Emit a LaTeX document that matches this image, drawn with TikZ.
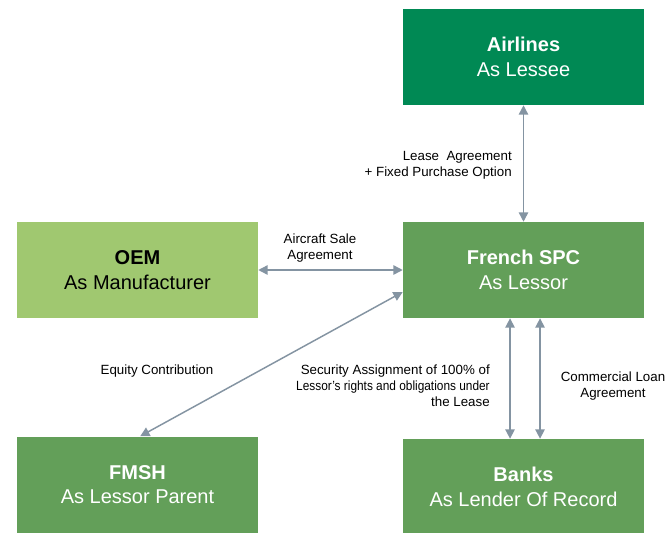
\documentclass[tikz,border=0pt]{standalone}
\usepackage{fontspec}
\setmainfont{Liberation Sans}
\usetikzlibrary{arrows.meta}

\definecolor{airgreen}{RGB}{0,137,84}
\definecolor{oemgreen}{RGB}{160,200,112}
\definecolor{midgreen}{RGB}{99,159,89}
\definecolor{linkgray}{RGB}{132,148,162}

\tikzset{
    party/.style={minimum width=180.75pt, minimum height=72pt, inner sep=0pt,
        align=center, text=white, font=\fontsize{15}{18.5}\selectfont},
    link/.style={draw=linkgray, line width=1.1pt,
        {Triangle[width=7pt,length=7pt]}-{Triangle[width=7pt,length=7pt]}},
    note/.style={font=\fontsize{10}{12}\selectfont, inner sep=0pt}
}

\begin{document}
\begin{tikzpicture}[x=0.75pt, y=-0.75pt]
    % Page frame (pixel coordinates of the reference)
    \useasboundingbox (0,0) rectangle (670,532);
    \clip (0,0) rectangle (670,532);

    % Parties
    \node[party, fill=airgreen] (airlines) at (523.5,57) {\textbf{Airlines}\\As Lessee};
    \node[party, fill=oemgreen, text=black] (oem) at (137.5,270) {\textbf{OEM}\\As Manufacturer};
    \node[party, fill=midgreen] (spc) at (523.5,270) {\textbf{French SPC}\\As Lessor};
    \node[party, fill=midgreen] (fmsh) at (137.5,484.5) {\textbf{FMSH}\\As Lessor Parent};
    \node[party, fill=midgreen] (banks) at (523.5,487) {\textbf{Banks}\\As Lender Of Record};

    % Agreements between parties
    \draw[link] (airlines.south) -- (spc.north);
    \draw[link] (oem.east) -- (spc.west);
    \draw[link] ([yshift=-16.5pt]spc.west) -- ([xshift=2pt]fmsh.north);
    \draw[link] ([xshift=-10.1pt]spc.south) -- ([xshift=-10.1pt]banks.north);
    \draw[link] ([xshift=12.4pt]spc.south) -- ([xshift=12.4pt]banks.north);

    % Labels
    \node[note, anchor=east, align=right] (lease) at (512,165) {Lease\ \ Agreement\\+ Fixed Purchase Option};
    \node[note, align=center] (sale) at (320,248) {Aircraft Sale\\Agreement};
    \node[note] (equity) at (157,371) {Equity Contribution};
    \node[note, anchor=east, align=right] (security) at (490,386)
        {Security Assignment of 100\% of\\\scalebox{0.89}[1]{Lessor's rights and obligations under}\\the Lease};
    \node[note, align=center] (loan) at (613,386) {Commercial Loan\\Agreement};
\end{tikzpicture}
\end{document}
